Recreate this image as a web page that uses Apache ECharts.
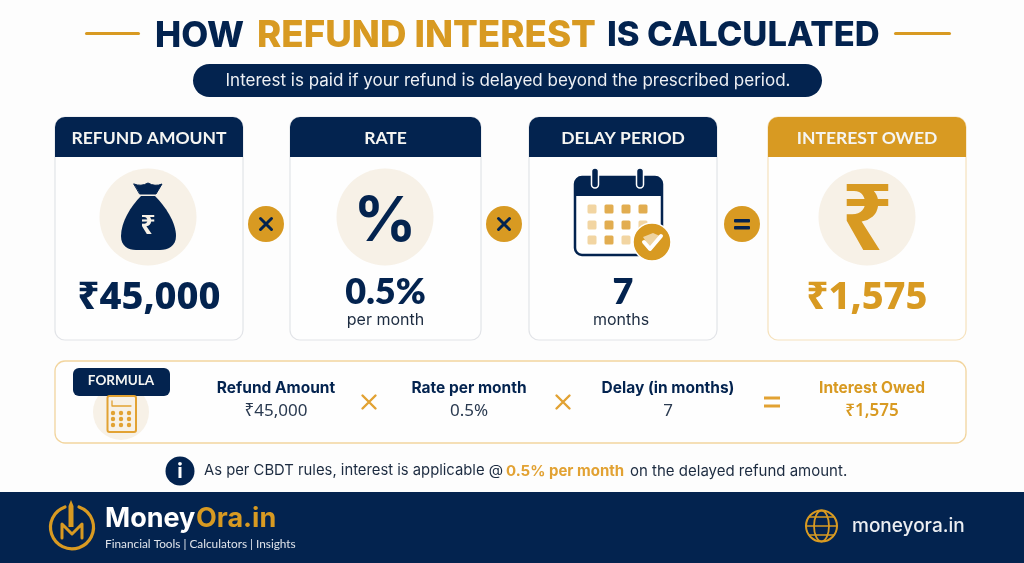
<!DOCTYPE html>
<html>
<head>
<meta charset="utf-8">
<title>How Refund Interest Is Calculated</title>
<script src="https://cdn.jsdelivr.net/npm/echarts@6/dist/echarts.min.js"></script>
<style>
  html, body { margin: 0; padding: 0; background: #fdfdfd; }
  #main { width: 1024px; height: 563px; }
</style>
</head>
<body>
<div id="main"></div>
<script>
// 卡片数据
const cardTitles = ['REFUND AMOUNT', 'RATE', 'DELAY PERIOD', 'INTEREST OWED']
const cardValues = ['₹45,000', '0.5%', '7', '₹1,575']
const cardUnits = ['', 'per month', 'months', '']
const cardOperators = ['×', '×', '=']
// 公式数据
const formulaLabels = ['Refund Amount', 'Rate per month', 'Delay (in months)', 'Interest Owed']
const formulaValues = ['₹45,000', '0.5%', '7', '₹1,575']
const formulaOperators = ['×', '×', '=']

const NAVY = '#03234f'
const GOLD = '#d89a22'
const CREAM = '#f7f1e7'
const FONT = 'Lato, "Noto Sans", sans-serif'
const WIDE = 'Inter, "Noto Sans", sans-serif'
const RUPEE_FONT = '"Noto Sans", "DejaVu Sans", sans-serif'

// 布局
const cardBoxes = [[55, 188], [290, 191], [529, 188], [768, 198]]
const opX = [266, 504, 742]
const formulaX = [276, 469, 668, 872]
const formulaOpX = [369, 563, 772]

let g = []
let pathCount = 0

function txt(x, y, text, size, color, weight, align, family) {
  g.push({
    type: 'text', x, y, silent: true,
    style: {
      text, fontSize: size, fill: color, fontWeight: weight || 'normal',
      fontFamily: family || FONT, align: align || 'center', verticalAlign: 'middle'
    }
  })
}
function rect(x, y, w, h, r, fill, stroke, lw) {
  g.push({
    type: 'rect', shape: { x, y, width: w, height: h, r },
    style: { fill: fill || 'none', stroke: stroke || 'none', lineWidth: lw || 1 }
  })
}
function circle(cx, cy, r, fill, stroke, lw) {
  g.push({
    type: 'circle', shape: { cx, cy, r },
    style: { fill: fill || 'none', stroke: stroke || 'none', lineWidth: lw || 1 }
  })
}
//graphic组件不支持直接写path 注册成自定义形状
function path(d, fill, stroke, lw) {
  let name = 'icon' + pathCount++
  echarts.graphic.registerShape(name, echarts.graphic.extendPath(d))
  g.push({
    type: name,
    style: { fill: fill || 'none', stroke: stroke || 'none', lineWidth: lw || 1, lineCap: 'round', lineJoin: 'round' }
  })
}

// 背景
rect(0, 0, 1024, 563, 0, '#fdfdfd')

// 标题
rect(85, 32, 55, 3, 1.5, GOLD)
rect(894, 32, 57, 3, 1.5, GOLD)
txt(155, 36, 'HOW', 35, NAVY, 800, 'left', WIDE)
txt(257, 36, 'REFUND INTEREST', 36.7, GOLD, 800, 'left', WIDE)
txt(607, 36, 'IS', 34.5, NAVY, 800, 'left', WIDE)
txt(647, 36, 'CALCULATED', 34.5, NAVY, 800, 'left', WIDE)

// 副标题
rect(193, 64, 629, 33, 16.5, NAVY)
txt(508, 81, 'Interest is paid if your refund is delayed beyond the prescribed period.', 17, '#eef0f4', 400, 'center', WIDE)

// 四张卡片
cardBoxes.forEach(function (box, i) {
  let x = box[0], w = box[1]
  let head = i === 3 ? GOLD : NAVY
  rect(x, 117, w, 223, 10, '#fefefe', i === 3 ? '#f6e2bd' : '#e2e4e8', 1.2)
  rect(x, 117, w, 40, [10, 10, 0, 0], head)
  txt(x + w / 2, 138, cardTitles[i], 17.5, '#f5f5f2', 700)
  let color = i === 3 ? GOLD : NAVY
  let money = i === 0 || i === 3
  txt(x + w / 2, money ? 298 : 292, cardValues[i], money ? 38 : 36, color, 800, 'center', money ? RUPEE_FONT : FONT)
  if (cardUnits[i]) {
    txt(x + w / 2 - (i === 2 ? 2 : 0), 320, cardUnits[i], 16, '#1c2b40', 400, 'center', WIDE)
  }
})

// 运算符
cardOperators.forEach(function (op, i) {
  circle(opX[i], 224, 18, GOLD)
  if (op === '×') {
    let x = opX[i], y = 224
    path(`M${x - 5.5} ${y - 5.5}L${x + 5.5} ${y + 5.5}M${x + 5.5} ${y - 5.5}L${x - 5.5} ${y + 5.5}`, null, NAVY, 3)
  } else {
    rect(opX[i] - 8, 219, 16, 3.5, 1, NAVY)
    rect(opX[i] - 8, 226, 16, 3.5, 1, NAVY)
  }
})

// 钱袋
circle(148, 217, 48.5, CREAM)
path('M134 184Q141 187 148 183Q155 187 162 184L156 194L140 194Z', NAVY, NAVY, 1)
path('M141 196L155 196C165 206 176 222 176 236C176 246 168 250 160 250L136 250C128 250 121 246 121 236C121 222 131 206 141 196Z', NAVY)
txt(148, 226, '₹', 27, '#f7f1e7', 700, 'center', RUPEE_FONT)

// 百分号
circle(385, 217, 48.5, CREAM)
txt(385, 222, '%', 62, NAVY, 700, 'center', WIDE)

// 日历
rect(575, 177, 87, 78, 7, '#fff', NAVY, 2.5)
rect(575, 177, 87, 19, [7, 7, 0, 0], NAVY)
;[595, 640].forEach(function (x) {
  rect(x - 3.5, 168, 7, 20, 3.5, NAVY, '#fff', 1.5)
})
;[209, 225, 240].forEach(function (y, row) {
  ;[592, 609, 626, 643].forEach(function (x, col) {
    let light = col === 0 || (row === 2 && col === 2) || (row === 1 && col === 3)
    rect(x - 4.5, y - 4.5, 9, 9, 1.5, light ? '#f2d5a2' : '#e2ad50')
  })
})
circle(652, 242, 19, GOLD, '#fff', 1.5)
path('M643 237L653 233L660 236L650 248Z', '#eed3a0')
path('M644 242L650 249L661 236', null, '#fff', 4)

// 卢比
circle(867, 217, 48.5, CREAM)
txt(867, 224, '₹', 92, GOLD, 700, 'center', RUPEE_FONT)

// 公式框
rect(55, 361, 911, 82, 10, '#fefefe', '#f2d59e', 1.3)
circle(121, 412, 28, CREAM)
rect(73, 368, 97, 28, 6, NAVY)
txt(121, 381, 'FORMULA', 13.5, '#f5f5f2', 700)
// 计算器
rect(107.5, 396, 28.5, 36, 2, 'none', '#e2a233', 2)
path('M112 401L112 406L131 406', null, '#e2a233', 1.3)
;[413, 419, 425].forEach(function (y) {
  ;[113, 121, 129].forEach(function (x) {
    circle(x, y, 2.2, '#e2a233')
  })
})

formulaLabels.forEach(function (label, i) {
  let last = i === 3
  txt(formulaX[i], 388, label, 15.5, last ? GOLD : NAVY, 700, 'center', WIDE)
  txt(formulaX[i], 411, formulaValues[i], 17, last ? GOLD : '#2a3a50', last ? 600 : 400, 'center', RUPEE_FONT)
})
formulaOperators.forEach(function (op, i) {
  let x = formulaOpX[i], y = 402
  if (op === '×') {
    path(`M${x - 6.5} ${y - 6.5}L${x + 6.5} ${y + 6.5}M${x + 6.5} ${y - 6.5}L${x - 6.5} ${y + 6.5}`, null, '#e2a233', 2.4)
  } else {
    rect(x - 8, y - 5.5, 16, 3, 0, '#e2a233')
    rect(x - 8, y + 2.5, 16, 3, 0, '#e2a233')
  }
})

// 提示
circle(180, 471, 14.5, NAVY)
txt(180, 471, 'i', 21, '#fff', 900)
txt(204, 471, 'As per CBDT rules, interest is applicable @ ', 14.8, '#1c2b40', 400, 'left', WIDE)
txt(506, 471, '0.5% per month', 15, '#e2a233', 700, 'left', WIDE)
txt(630, 471, 'on the delayed refund amount.', 15, '#1c2b40', 400, 'left', WIDE)

// 底部
rect(0, 492, 1024, 71, 0, NAVY)
path('M65 507A21.5 21.5 0 1 0 79 507', null, GOLD, 3.2)
path('M62 538L62 524L72 534L82 524L82 538', null, GOLD, 3)
path('M68.5 527L68.5 506L71 500L73.5 506L73.5 527Z', GOLD)
txt(105, 519, 'Money', 27, '#ffffff', 700, 'left', WIDE)
txt(196, 519, 'Ora.in', 27, GOLD, 700, 'left', WIDE)
txt(105, 544, 'Financial Tools | Calculators | Insights', 11.8, '#dfe3ea', 400, 'left', FONT)

// 地球图标
circle(821.5, 526, 15.5, 'none', GOLD, 2)
g.push({ type: 'ellipse', shape: { cx: 821.5, cy: 526, rx: 7.5, ry: 15.5 }, style: { fill: 'none', stroke: GOLD, lineWidth: 1.8 } })
path('M809 517L834 517M806 526L837 526M809 535L834 535', null, GOLD, 1.6)
txt(852, 526, 'moneyora.in', 19, '#eceef2', 500, 'left', WIDE)

let myChart = echarts.init(document.getElementById('main'), null, { renderer: 'canvas' })
myChart.setOption({
  animation: false,
  graphic: { elements: [{ type: 'group', children: g }] }
})
</script>
</body>
</html>
